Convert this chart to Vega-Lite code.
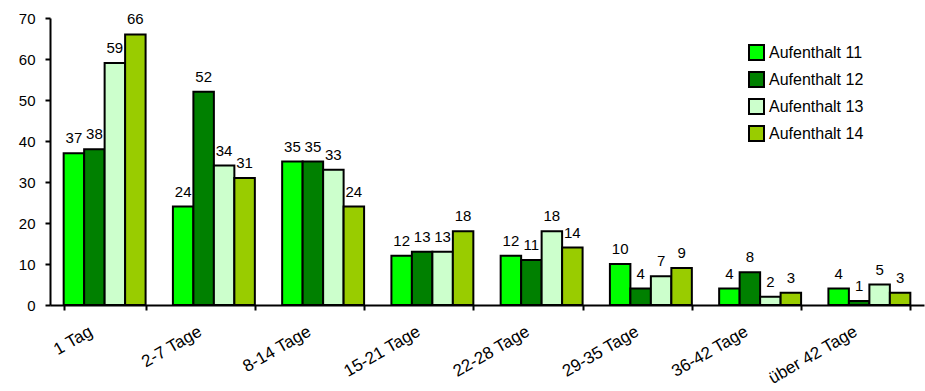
{
  "$schema": "https://vega.github.io/schema/vega-lite/v6.json",
  "width": 874,
  "height": 287,
  "autosize": {"type": "none"},
  "padding": {"left": 50, "top": 18, "right": 1, "bottom": 86},
  "background": "white",
  "data": {"values": [
    {"cat": "1 Tag", "series": "Aufenthalt 11", "value": 37},
    {"cat": "1 Tag", "series": "Aufenthalt 12", "value": 38},
    {"cat": "1 Tag", "series": "Aufenthalt 13", "value": 59},
    {"cat": "1 Tag", "series": "Aufenthalt 14", "value": 66},
    {"cat": "2-7 Tage", "series": "Aufenthalt 11", "value": 24},
    {"cat": "2-7 Tage", "series": "Aufenthalt 12", "value": 52},
    {"cat": "2-7 Tage", "series": "Aufenthalt 13", "value": 34},
    {"cat": "2-7 Tage", "series": "Aufenthalt 14", "value": 31},
    {"cat": "8-14 Tage", "series": "Aufenthalt 11", "value": 35},
    {"cat": "8-14 Tage", "series": "Aufenthalt 12", "value": 35},
    {"cat": "8-14 Tage", "series": "Aufenthalt 13", "value": 33},
    {"cat": "8-14 Tage", "series": "Aufenthalt 14", "value": 24},
    {"cat": "15-21 Tage", "series": "Aufenthalt 11", "value": 12},
    {"cat": "15-21 Tage", "series": "Aufenthalt 12", "value": 13},
    {"cat": "15-21 Tage", "series": "Aufenthalt 13", "value": 13},
    {"cat": "15-21 Tage", "series": "Aufenthalt 14", "value": 18},
    {"cat": "22-28 Tage", "series": "Aufenthalt 11", "value": 12},
    {"cat": "22-28 Tage", "series": "Aufenthalt 12", "value": 11},
    {"cat": "22-28 Tage", "series": "Aufenthalt 13", "value": 18},
    {"cat": "22-28 Tage", "series": "Aufenthalt 14", "value": 14},
    {"cat": "29-35 Tage", "series": "Aufenthalt 11", "value": 10},
    {"cat": "29-35 Tage", "series": "Aufenthalt 12", "value": 4},
    {"cat": "29-35 Tage", "series": "Aufenthalt 13", "value": 7},
    {"cat": "29-35 Tage", "series": "Aufenthalt 14", "value": 9},
    {"cat": "36-42 Tage", "series": "Aufenthalt 11", "value": 4},
    {"cat": "36-42 Tage", "series": "Aufenthalt 12", "value": 8},
    {"cat": "36-42 Tage", "series": "Aufenthalt 13", "value": 2},
    {"cat": "36-42 Tage", "series": "Aufenthalt 14", "value": 3},
    {"cat": "über 42 Tage", "series": "Aufenthalt 11", "value": 4},
    {"cat": "über 42 Tage", "series": "Aufenthalt 12", "value": 1},
    {"cat": "über 42 Tage", "series": "Aufenthalt 13", "value": 5},
    {"cat": "über 42 Tage", "series": "Aufenthalt 14", "value": 3}
  ]},
  "encoding": {
    "x": {
      "field": "cat", "type": "nominal",
      "sort": ["1 Tag", "2-7 Tage", "8-14 Tage", "15-21 Tage", "22-28 Tage", "29-35 Tage", "36-42 Tage", "über 42 Tage"],
      "scale": {"paddingInner": 0.25, "paddingOuter": 0.125},
      "axis": {
        "title": null, "labelAngle": -30, "labelAlign": "right", "labelBaseline": "middle",
        "labelFontSize": 17, "labelColor": "black", "labelOffset": -14, "labelPadding": 20,
        "tickBand": "extent", "tickColor": "black", "tickWidth": 2, "tickSize": 5,
        "domainColor": "black", "domainWidth": 2, "grid": false
      }
    },
    "xOffset": {
      "field": "series", "type": "nominal",
      "sort": ["Aufenthalt 11", "Aufenthalt 12", "Aufenthalt 13", "Aufenthalt 14"],
      "scale": {"paddingInner": 0, "paddingOuter": 0}
    },
    "y": {
      "field": "value", "type": "quantitative",
      "scale": {"domain": [0, 70]},
      "axis": {
        "title": null, "values": [0, 10, 20, 30, 40, 50, 60, 70], "grid": false,
        "labelFontSize": 15, "labelColor": "black", "labelPadding": 10,
        "tickColor": "black", "tickWidth": 2, "tickSize": 5,
        "domainColor": "black", "domainWidth": 2
      }
    }
  },
  "layer": [
    {
      "mark": {"type": "bar", "stroke": "black", "strokeWidth": 2},
      "encoding": {
        "color": {
          "field": "series", "type": "nominal",
          "sort": ["Aufenthalt 11", "Aufenthalt 12", "Aufenthalt 13", "Aufenthalt 14"],
          "scale": {"domain": ["Aufenthalt 11", "Aufenthalt 12", "Aufenthalt 13", "Aufenthalt 14"], "range": ["#00FF00", "#008000", "#CCFFCC", "#99CC00"]},
          "legend": {
            "title": null, "orient": "none", "legendX": 698, "legendY": 26, "padding": 0,
            "symbolType": "square", "symbolSize": 225, "symbolStrokeColor": "black", "symbolStrokeWidth": 2,
            "symbolOpacity": 1,
            "labelFontSize": 16, "labelColor": "black", "labelOffset": 4, "rowPadding": 4
          }
        }
      }
    },
    {
      "mark": {"type": "text", "baseline": "bottom", "dy": -7, "fontSize": 15, "color": "black"},
      "encoding": {"text": {"field": "value", "type": "quantitative"}}
    }
  ],
  "config": {"view": {"stroke": null}, "font": "Liberation Sans"}
}
